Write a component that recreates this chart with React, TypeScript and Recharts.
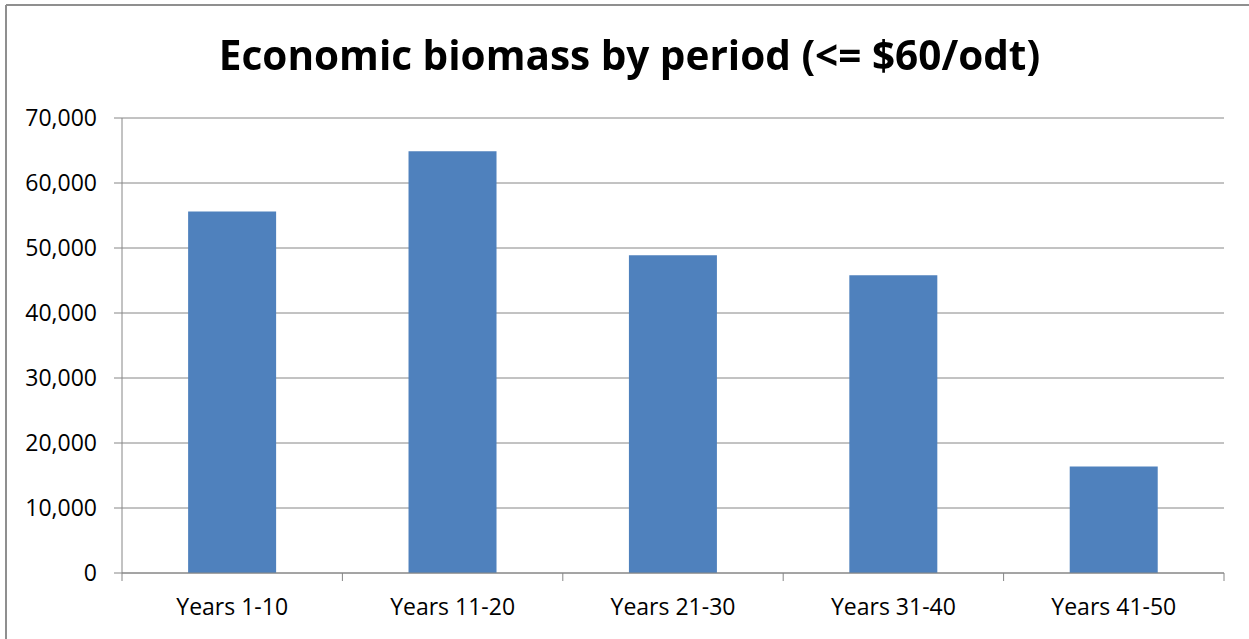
import React from "react";
import { BarChart, Bar, XAxis, YAxis, CartesianGrid } from "recharts";

const categories = ["Years 1-10", "Years 11-20", "Years 21-30", "Years 31-40", "Years 41-50"];
const biomass = [55600, 64900, 48900, 45800, 16400];
const yTicks = [0, 10000, 20000, 30000, 40000, 50000, 60000, 70000];
const title = "Economic biomass by period (<= $60/odt)";

const data = categories.map((period, i) => ({ period, biomass: biomass[i] }));

const W = 1249;
const H = 639;
const M = { top: 118, right: 25, bottom: 26, left: 0 };
const Y_W = 122;
const X_H = 40;
const STEP = (W - M.left - Y_W - M.right) / categories.length;
const TICK_SIZE = 8;
const TICK_MARGIN = 18;
const FONT = "'Open Sans', 'Noto Sans', sans-serif";
const AXIS_COLOR = "#868686";
const FRAME_COLOR = "#8f8f8f";

const CatTick = (props: any) => {
  const { x, y, payload, index } = props;
  const axisY = y - TICK_MARGIN - TICK_SIZE;
  return (
    <g>
      <line x1={x - STEP / 2} x2={x - STEP / 2} y1={axisY} y2={axisY + TICK_SIZE} stroke={AXIS_COLOR} />
      {index === categories.length - 1 && (
        <line x1={x + STEP / 2} x2={x + STEP / 2} y1={axisY} y2={axisY + TICK_SIZE} stroke={AXIS_COLOR} />
      )}
      <text x={x} y={y} dy="0.71em" textAnchor="middle" fontSize={23} fontFamily={FONT} fill="#000">
        {payload.value}
      </text>
    </g>
  );
};

export default function App() {
  return (
    <div style={{ position: "fixed", left: 0, top: 0, width: W, height: H, background: "#fff" }}>
      <div style={{ position: "absolute", left: 0, top: 0 }}>
        <BarChart width={W} height={H} data={data} margin={M} barCategoryGap="30%">
          <CartesianGrid vertical={false} stroke={AXIS_COLOR} strokeWidth={1} />
          <XAxis
            dataKey="period"
            interval={0}
            height={X_H}
            tickLine={false}
            tickSize={TICK_SIZE}
            tickMargin={TICK_MARGIN}
            axisLine={{ stroke: AXIS_COLOR }}
            tick={<CatTick />}
          />
          <YAxis
            width={Y_W}
            domain={[0, 70000]}
            ticks={yTicks}
            interval={0}
            tickSize={TICK_SIZE}
            tickMargin={17}
            axisLine={{ stroke: AXIS_COLOR }}
            tickLine={{ stroke: AXIS_COLOR }}
            tick={{ fill: "#000", fontSize: 23, fontFamily: FONT }}
            tickFormatter={(v: number) => v.toLocaleString("en-US")}
          />
          <Bar dataKey="biomass" fill="#4F81BD" isAnimationActive={false} />
        </BarChart>
      </div>
      <div
        style={{
          position: "absolute",
          left: 5,
          width: W,
          top: 30,
          textAlign: "center",
          fontFamily: FONT,
          fontWeight: 700,
          fontSize: 40.5,
          lineHeight: "50px",
          color: "#000",
          whiteSpace: "nowrap",
        }}
      >
        {title}
      </div>
      <svg
        width={W}
        height={H}
        style={{ position: "absolute", left: 0, top: 0, zIndex: 10, pointerEvents: "none" }}
      >
        <line x1={6} y1={5} x2={W} y2={5} stroke={FRAME_COLOR} strokeWidth={2} />
        <line x1={6} y1={5} x2={6} y2={H} stroke={FRAME_COLOR} strokeWidth={2} />
      </svg>
    </div>
  );
}
